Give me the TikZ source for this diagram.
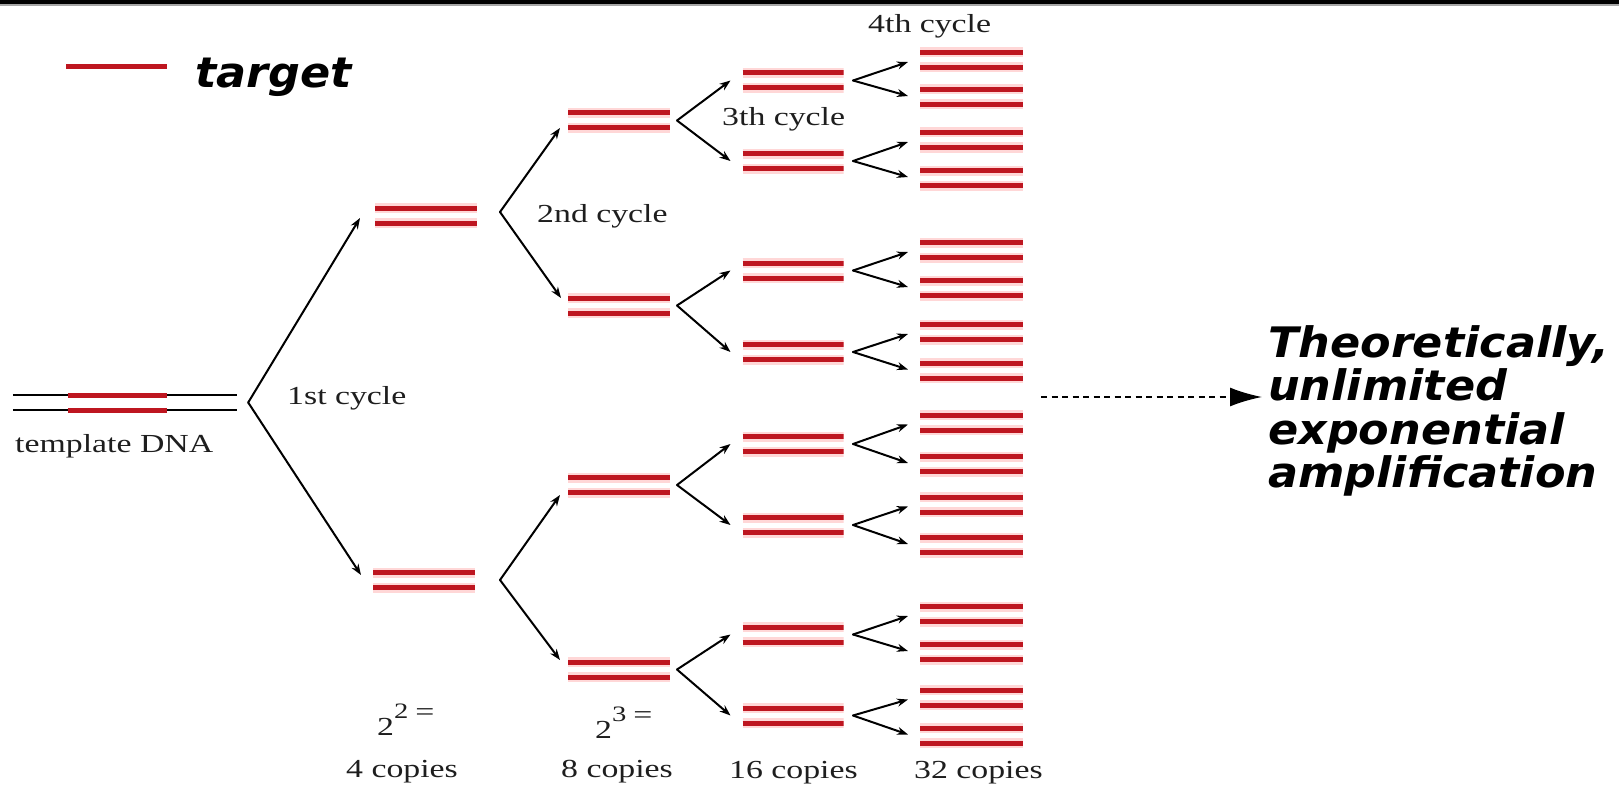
\documentclass[tikz,border=0pt]{standalone}
\usepackage{fontspec}
\usetikzlibrary{arrows.meta}
\newfontfamily\labfont{Liberation Serif}[FakeStretch=1.3]
\newfontfamily\legfont{DejaVu Sans}[FakeStretch=1.06]
\newfontfamily\conclfont{DejaVu Sans}[FakeStretch=1.06]
\definecolor{dnared}{RGB}{190,22,32}
\definecolor{dnahalo}{RGB}{255,215,215}
\definecolor{labgray}{RGB}{30,30,30}
\begin{document}
\begin{tikzpicture}[x=1pt,y=-1pt,
  bar/.style={draw=dnared, line width=5pt},
  halo/.style={draw=dnahalo, line width=10pt},
  dna/.style={minimum width=102pt, minimum height=26pt, inner sep=0pt, outer sep=0pt,
    path picture={
      \draw[halo] ([yshift=7.5pt]path picture bounding box.west) -- ([yshift=7.5pt]path picture bounding box.east);
      \draw[halo] ([yshift=-7.5pt]path picture bounding box.west) -- ([yshift=-7.5pt]path picture bounding box.east);
      \draw[bar] ([yshift=7.5pt]path picture bounding box.west) -- ([yshift=7.5pt]path picture bounding box.east);
      \draw[bar] ([yshift=-7.5pt]path picture bounding box.west) -- ([yshift=-7.5pt]path picture bounding box.east);
    }},
  arr/.style={draw=black, line width=2pt, line cap=round, -{Stealth[length=11pt,width=8pt]}},
  dasharr/.style={draw=black, line width=1.8pt, dash pattern=on 6pt off 4.5pt, -{Latex[length=32pt,width=19pt]}},
  lab/.style={inner sep=0pt, anchor=base west, text=labgray, font=\labfont\fontsize{26}{26}\selectfont},
  legtextstyle/.style={inner sep=0pt, text=black, font=\legfont\bfseries\itshape\fontsize{42}{46}\selectfont},
  concl/.style={inner sep=0pt, text=black, font=\conclfont\bfseries\itshape\fontsize{42}{43.3}\selectfont},
]
\fill[white] (0,0) rectangle (1619,789);
\useasboundingbox (0,0) rectangle (1619,789);
\fill[black] (0,0) rectangle (1619,4);
\fill[black!35] (0,4) rectangle (1619,6);

% legend
\node[fill=dnared, minimum width=101pt, minimum height=5pt, inner sep=0pt] (legbar) at (116.5,67) {};
\node[legtextstyle, anchor=base west] (legtext) at (195,88) {target};

% template DNA
\node[minimum width=224pt, minimum height=22pt, inner sep=0pt] (L0) at (125,402.5) {};
\draw[black, line width=2pt] ([yshift=7.5pt]L0.west) -- ([yshift=7.5pt]L0.east);
\draw[black, line width=2pt] ([yshift=-7.5pt]L0.west) -- ([yshift=-7.5pt]L0.east);
\draw[bar] ([shift={(55,-7.5)}]L0.west) -- ([shift={(154,-7.5)}]L0.west);
\draw[bar] ([shift={(55,7.5)}]L0.west) -- ([shift={(154,7.5)}]L0.west);
\node[lab] (tlab) at (15,452) {template DNA};

% level 1
\node[dna] (L1-1) at (426,215.5) {};
\node[dna] (L1-2) at (424,580) {};
\coordinate (v0) at ([xshift=11pt]L0.east);
\draw[arr] (v0) -- ([shift={(-15,2.5)}]L1-1.west);
\draw[arr] (v0) -- ([shift={(-12,-5)}]L1-2.west);
\node[lab] (c1) at (287,404) {1st cycle};

% level 2
\foreach \i/\y in {1/120.5, 2/305.5, 3/485, 4/669.5}
  \node[dna] (L2-\i) at (619,\y) {};
\coordinate (v1-1) at (500,212);
\coordinate (v1-2) at (500,580);
\draw[arr] (v1-1) -- ([shift={(-8,7.5)}]L2-1.west);
\draw[arr] (v1-1) -- ([shift={(-7,-7.5)}]L2-2.west);
\draw[arr] (v1-2) -- ([shift={(-8,10)}]L2-3.west);
\draw[arr] (v1-2) -- ([shift={(-8,-9.5)}]L2-4.west);
\node[lab] (c2) at (537,222) {2nd cycle};

% level 3
\foreach \i/\y in {1/80.5,2/161,3/270.5,4/352,5/444,6/525,7/634.5,8/715.5}
  \node[dna, minimum width=101pt] (L3-\i) at (793,\y) {};
\foreach \i/\a/\b in {1/1/2,2/3/4,3/5/6,4/7/8} {
  \coordinate (v2-\i) at ([xshift=7pt]L2-\i.east);
  \draw[arr] (v2-\i) -- ([xshift=-12pt]L3-\a.west);
  \draw[arr] (v2-\i) -- ([xshift=-12pt]L3-\b.west);
}
\node[lab] (c3) at (722,126) {3th cycle};

% level 4
\foreach \i/\y in {1/60,2/97,3/140,4/178,5/250,6/288,7/332,8/370.5,9/422.5,10/464,11/504.5,12/545,13/614,14/652,15/697.5,16/735.5}
  \node[dna, minimum width=103pt] (L4-\i) at (971.5,\y) {};
\foreach \i/\a/\b in {1/1/2,2/3/4,3/5/6,4/7/8,5/9/10,6/11/12,7/13/14,8/15/16} {
  \coordinate (v3-\i) at ([xshift=9.5pt]L3-\i.east);
  \draw[arr] (v3-\i) -- ([shift={(-12,2)}]L4-\a.west);
  \draw[arr] (v3-\i) -- ([shift={(-12,-1)}]L4-\b.west);
}
\node[lab] (c4) at (868,33) {4th cycle};

% counts
\node[lab] (e2) at (377,735) {2\raisebox{17pt}{\fontsize{22}{22}\selectfont 2}\hspace{7pt}\raisebox{15pt}{=}};
\node[lab] (e3) at (595,738) {2\raisebox{17pt}{\fontsize{22}{22}\selectfont 3}\hspace{7pt}\raisebox{15pt}{=}};
\node[lab] (k4) at (346,777) {4 copies};
\node[lab] (k8) at (561,777) {8 copies};
\node[lab] (k16) at (729,778) {16 copies};
\node[lab] (k32) at (914,778) {32 copies};

% conclusion
\node[concl, anchor=west, align=left] (theo) at (1268,411) {Theoretically,\\unlimited\\exponential\\amplification};
\coordinate (dstart) at (1041,397);
\draw[dasharr] (dstart) -- ([xshift=-6pt]theo.west |- dstart);
\end{tikzpicture}
\end{document}
